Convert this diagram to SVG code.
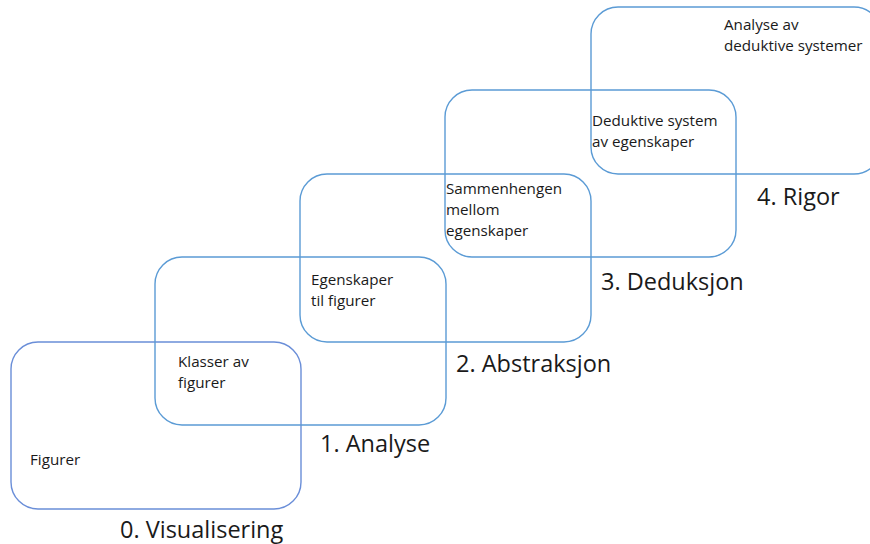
<svg xmlns="http://www.w3.org/2000/svg" width="870" height="544" viewBox="0 0 870 544">
<style>
.box{fill:none;stroke:#5B9BD5;stroke-width:1.4}
.b0{stroke:#6A8ED8}
.t{font-family:"Open Sans","Liberation Sans",sans-serif;font-size:15.2px;fill:#1a1a1a}
.lbl{font-family:"Open Sans","Liberation Sans",sans-serif;font-size:23.5px;fill:#1a1a1a}
</style>
<rect width="870" height="544" fill="#ffffff"/>
<g id="level0">
<rect class="box b0" x="11" y="342" width="290" height="167" rx="27"/>
<text class="t" x="30" y="465">Figurer</text>
<text class="lbl" x="120" y="538">0. Visualisering</text>
</g>
<g id="level1">
<rect class="box" x="155" y="257" width="291" height="168" rx="27"/>
<text class="t" x="178" y="367">Klasser av</text>
<text class="t" x="178" y="388">figurer</text>
<text class="lbl" x="320" y="452">1. Analyse</text>
</g>
<g id="level2">
<rect class="box" x="300" y="174" width="291" height="168" rx="27"/>
<text class="t" x="311" y="285">Egenskaper</text>
<text class="t" x="311" y="306">til figurer</text>
<text class="lbl" x="456" y="372">2. Abstraksjon</text>
</g>
<g id="level3">
<rect class="box" x="445" y="90" width="291" height="167" rx="27"/>
<text class="t" x="446" y="194">Sammenhengen</text>
<text class="t" x="446" y="215">mellom</text>
<text class="t" x="446" y="236">egenskaper</text>
<text class="lbl" x="601" y="290">3. Deduksjon</text>
</g>
<g id="level4">
<rect class="box" x="591" y="7" width="290" height="167" rx="27"/>
<text class="t" x="592" y="126">Deduktive system</text>
<text class="t" x="592" y="147">av egenskaper</text>
<text class="t" x="724" y="30">Analyse av</text>
<text class="t" x="724" y="51">deduktive systemer</text>
<text class="lbl" x="757" y="205">4. Rigor</text>
</g>
<g id="connectors"/>
</svg>
